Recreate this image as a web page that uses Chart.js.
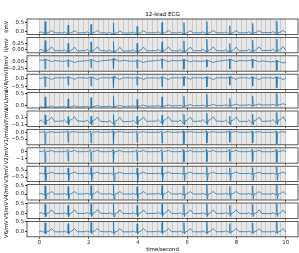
<!DOCTYPE html>
<html>
<head>
<meta charset="utf-8">
<script src="https://cdn.jsdelivr.net/npm/chart.js@4.4.1/dist/chart.umd.min.js"></script>
<style>
html, body { margin: 0; padding: 0; background: #fff; }
#wrap { position: relative; width: 299px; height: 253px; overflow: hidden; }
#wrap canvas { position: absolute; left: 0; top: 0; }
#title { position: absolute; left: 27px; width: 271px; top: 10.5px; line-height: 7px; text-align: center; font: 5.6px "DejaVu Sans"; color: #000; }
</style>
</head>
<body>
<div id="wrap"><div id="title">12-lead ECG</div></div>
<script>
// ---- data ----
const leadNames = ['I', 'II', 'III', 'aVR', 'aVL', 'aVF', 'V1', 'V2', 'V3', 'V4', 'V5', 'V6'];
const beatTimes = [0.24, 1.17, 2.10, 3.01, 3.97, 4.98, 5.87, 6.80, 7.73, 8.66, 9.64];
// P start, P, P end, Q, R, S, J, T start, T, T end (seconds from the R peak)
const waveOffsets = [-0.22, -0.16, -0.10, -0.018, 0, 0.022, 0.06, 0.15, 0.26, 0.38];

const peakI = [0.60, 0.42, 0.45, 0.55, 0.35, 0.55, 0.55, 0.60, 0.38, 0.50, 0.62];
const waveI = [0, 0.05, 0, -0.04, 0, -0.08, -0.01, 0.02, 0.12, 0];
const baseI = [-0.05, -0.06, -0.05, -0.07, -0.06, -0.05, -0.06, -0.05, -0.06, -0.05, -0.04];

const peakII = [0.40, 0.30, 0.35, 0.38, 0.30, 0.35, 0.40, 0.45, 0.30, 0.42, 0.45];
const waveII = [0, 0.05, 0, -0.04, 0, -0.06, 0, 0.03, 0.15, 0];
const baseII = [-0.03, -0.04, -0.03, -0.05, -0.04, -0.03, -0.04, -0.03, -0.04, -0.03, -0.02];

const peakIII = [-0.30, -0.20, -0.25, -0.30, -0.25, -0.28, -0.30, -0.20, -0.30, -0.25, -0.30];
const waveIII = [0, 0.02, 0, 0.05, 0, 0.06, 0.02, 0, -0.04, 0];
const baseIII = [0.03, 0.00, 0.02, 0.04, 0.00, 0.03, 0.02, 0.00, 0.03, 0.02, -0.02];

const peakAVR = [-0.55, -0.45, -0.50, -0.60, -0.45, -0.55, -0.50, -0.55, -0.45, -0.50, -0.60];
const waveAVR = [0, -0.03, 0, 0.05, 0, 0.08, 0, -0.02, -0.10, 0];
const baseAVR = [0.02, 0.03, 0.02, 0.03, 0.02, 0.02, 0.03, 0.02, 0.03, 0.02, 0.02];

const peakAVL = [0.45, 0.35, 0.40, 0.45, 0.30, 0.40, 0.42, 0.50, 0.30, 0.40, 0.50];
const waveAVL = [0, 0.02, 0, -0.04, 0, -0.06, 0, 0.01, 0.05, 0];
const baseAVL = [-0.08, -0.07, -0.06, -0.05, -0.04, -0.03, -0.02, -0.01, 0.00, 0.01, 0.02];

const peakAVF = [0.18, 0.12, 0.15, 0.20, 0.14, 0.16, 0.20, 0.22, 0.15, 0.20, 0.24];
const waveAVF = [0, 0.04, 0, -0.06, 0, -0.10, 0.02, 0.04, 0.12, 0];
const baseAVF = [0.00, 0.01, 0.00, -0.01, 0.00, 0.01, 0.00, 0.01, 0.00, 0.00, 0.01];

const peakV1 = [-0.85, -0.75, -0.80, -0.85, -0.75, -0.80, -0.85, -0.80, -0.75, -0.80, -0.85];
const waveV1 = [0, 0.02, 0, 0.10, 0, -0.05, 0, 0.02, 0.05, 0];
const baseV1 = [0.00, 0.01, 0.00, 0.01, 0.00, 0.00, 0.01, 0.00, 0.01, 0.00, 0.00];

const peakV2 = [-1.60, -1.40, -1.50, -1.60, -1.40, -1.50, -1.55, -1.50, -1.45, -1.50, -1.60];
const waveV2 = [0, 0.05, 0, 0.30, 0, -0.10, 0.05, 0.05, 0.20, 0];
const baseV2 = [0.00, 0.00, 0.01, 0.00, 0.00, 0.01, 0.00, 0.00, 0.01, 0.00, 0.00];

const peakV3 = [0.95, 0.80, 0.85, 0.95, 0.80, 0.90, 0.95, 0.90, 0.80, 0.85, 0.95];
const waveV3 = [0, 0.05, 0, -0.10, 0, -1.00, 0, 0.05, 0.20, 0];
const baseV3 = [0.00, 0.00, 0.01, 0.00, 0.00, 0.01, 0.00, 0.00, 0.01, 0.00, 0.00];

const peakV4 = [0.50, 0.45, 0.50, 0.55, 0.45, 0.50, 0.50, 0.55, 0.45, 0.50, 0.55];
const waveV4 = [0, 0.04, 0, -0.05, 0, -0.30, 0, 0.03, 0.15, 0];
const baseV4 = [0.00, 0.00, 0.01, 0.00, 0.00, 0.01, 0.00, 0.00, 0.01, 0.00, 0.00];

const peakV5 = [0.45, 0.40, 0.45, 0.48, 0.40, 0.45, 0.45, 0.48, 0.40, 0.45, 0.48];
const waveV5 = [0, 0.04, 0, -0.04, 0, -0.15, 0, 0.03, 0.18, 0];
const baseV5 = [0.00, 0.00, 0.01, 0.00, 0.00, 0.01, 0.00, 0.00, 0.01, 0.00, 0.00];

const peakV6 = [0.45, 0.40, 0.45, 0.48, 0.40, 0.45, 0.45, 0.48, 0.40, 0.45, 0.48];
const waveV6 = [0, 0.04, 0, -0.03, 0, -0.10, 0, 0.03, 0.16, 0];
const baseV6 = [0.00, 0.00, 0.01, 0.00, 0.00, 0.01, 0.00, 0.00, 0.01, 0.00, 0.00];

const peaks = [peakI, peakII, peakIII, peakAVR, peakAVL, peakAVF, peakV1, peakV2, peakV3, peakV4, peakV5, peakV6];
const waves = [waveI, waveII, waveIII, waveAVR, waveAVL, waveAVF, waveV1, waveV2, waveV3, waveV4, waveV5, waveV6];
const bases = [baseI, baseII, baseIII, baseAVR, baseAVL, baseAVF, baseV1, baseV2, baseV3, baseV4, baseV5, baseV6];

const yLimits = [[-0.14, 0.69], [-0.12, 0.5], [-0.35, 0.2], [-0.7, 0.25], [-0.12, 0.56], [-0.14, 0.29],
                 [-0.93, 0.22], [-1.75, 0.6], [-1.15, 1.05], [-0.36, 0.57], [-0.24, 0.52], [-0.25, 0.52]];
const yTicks = [[0, 0.5], [0, 0.25], [-0.25, 0], [-0.5, 0], [0, 0.5], [-0.1, 0, 0.1],
                [-0.5, 0], [-1, 0], [-0.5, 0, 0.5], [0, 0.5], [0, 0.5], [0, 0.5]];
const yTickLabels = [['0.0', '0.5'], ['0.00', '0.25'], ['\u22120.25', '0.00'], ['\u22120.5', '0.0'], ['0.0', '0.5'],
                     ['\u22120.1', '0.0', '0.1'], ['\u22120.5', '0.0'], ['\u22121', '0'], ['\u22120.5', '0.0', '0.5'],
                     ['0.0', '0.5'], ['0.0', '0.5'], ['0.0', '0.5']];
const xTickLabels = ['0', '2', '4', '6', '8', '10'];

// ---- layout ----
const W = 299, H = 253;
const firstTop = 19, panelH = 15.4, slot = 18.4;
const fontFam = '"DejaVu Sans", sans-serif';

// vertical grid every 0.2 s from 0 to 10
const gridTimes = [];
for (let k = 0; k <= 50; k++) gridTimes.push(Math.round(k * 2) / 10);

function buildSeries(i) {
    const pts = [{x: 0, y: bases[i][0]}];
    beatTimes.forEach((bt, b) => {
        waveOffsets.forEach((off, k) => {
            const t = bt + off;
            if (t <= 0 || t >= 10) return;
            const v = k === 4 ? peaks[i][b] : waves[i][k];
            pts.push({x: t, y: bases[i][b] + v});
        });
    });
    pts.push({x: 10, y: bases[i][bases[i].length - 1]});
    return pts;
}

const panelBg = {
    id: 'panelBg',
    beforeDraw(chart) {
        const {ctx, chartArea: a, scales: {x}} = chart;
        ctx.save();
        ctx.fillStyle = '#e8e8e8';
        ctx.fillRect(x.getPixelForValue(0), a.top, x.getPixelForValue(10) - x.getPixelForValue(0), a.bottom - a.top);
        ctx.restore();
    },
    afterDraw(chart) {
        const {ctx, chartArea: a} = chart;
        ctx.save();
        ctx.strokeStyle = '#333';
        ctx.lineWidth = 0.8;
        ctx.strokeRect(a.left, a.top, a.right - a.left, a.bottom - a.top);
        ctx.restore();
    }
};

const wrap = document.getElementById('wrap');

leadNames.forEach((name, i) => {
    const last = i === leadNames.length - 1;
    const top = firstTop + i * slot;
    const bottom = top + panelH;
    const cv = document.createElement('canvas');
    cv.width = W;
    cv.height = H;
    wrap.appendChild(cv);

    new Chart(cv, {
        type: 'line',
        data: {
            datasets: [{
                data: buildSeries(i),
                borderColor: '#1f77b4',
                borderWidth: 0.8,
                borderJoinStyle: 'round',
                borderCapStyle: 'round',
                pointRadius: 0,
                tension: 0
            }]
        },
        options: {
            responsive: false,
            animation: false,
            events: [],
            layout: {padding: {top: top, bottom: last ? 0.7 : H - bottom, left: 0, right: 1}},
            plugins: {legend: {display: false}, tooltip: {enabled: false}},
            scales: {
                x: {
                    type: 'linear',
                    min: -0.5,
                    max: 10.5,
                    afterBuildTicks: s => { s.ticks = gridTimes.map(v => ({value: v})); },
                    afterFit: s => { s.height = last ? 15.5 : 0; },
                    border: {display: false},
                    grid: {
                        color: '#c2c2c2',
                        lineWidth: 0.8,
                        tickLength: 2,
                        tickColor: c => (c.tick && Math.abs(c.tick.value / 2 - Math.round(c.tick.value / 2)) < 1e-6) ? '#333' : 'rgba(0,0,0,0)'
                    },
                    ticks: {
                        display: last,
                        autoSkip: false,
                        maxRotation: 0,
                        padding: 1,
                        color: '#222',
                        font: {size: 5.3, family: fontFam},
                        callback: v => {
                            const k = v / 2;
                            return Math.abs(k - Math.round(k)) < 1e-6 ? xTickLabels[Math.round(k)] : '';
                        }
                    },
                    title: {
                        display: last,
                        text: 'time/second',
                        color: '#000',
                        padding: {top: 0, bottom: 0},
                        font: {size: 5.3, family: fontFam}
                    }
                },
                y: {
                    min: yLimits[i][0],
                    max: yLimits[i][1],
                    afterBuildTicks: s => { s.ticks = yTicks[i].map(v => ({value: v})); },
                    afterFit: s => { s.width = 27; },
                    border: {display: false},
                    grid: {drawOnChartArea: false, tickLength: 2, tickColor: '#333'},
                    ticks: {
                        padding: 1,
                        color: '#222',
                        font: {size: 5.3, family: fontFam},
                        callback: (v, idx) => yTickLabels[i][idx]
                    },
                    title: {
                        display: true,
                        text: name + '/mV',
                        color: '#000',
                        padding: {top: 3, bottom: 0},
                        font: {size: 5.3, family: fontFam}
                    }
                }
            }
        },
        plugins: [panelBg]
    });
});
</script>
</body>
</html>
